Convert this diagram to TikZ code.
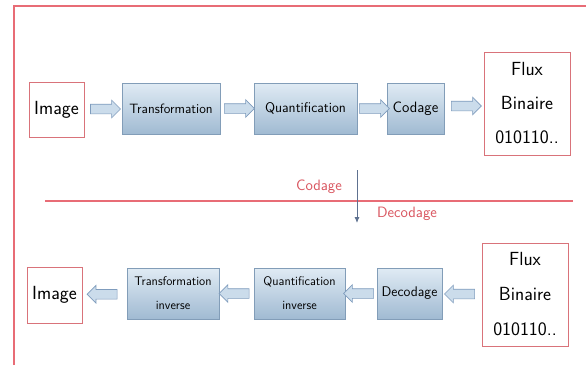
\documentclass[tikz,border=0pt]{standalone}
\usetikzlibrary{shapes.arrows,calc,arrows.meta}
\definecolor{borderred}{RGB}{232,108,118}
\definecolor{boxred}{RGB}{217,115,122}
\definecolor{bluebord}{RGB}{130,157,184}
\definecolor{bluetop}{RGB}{224,235,244}
\definecolor{bluebot}{RGB}{160,186,210}
\definecolor{arrowbord}{RGB}{127,156,189}
\definecolor{arrowfill}{RGB}{203,220,235}
\definecolor{labred}{RGB}{217,84,94}
\definecolor{vdark}{RGB}{94,113,144}
\tikzset{
  redbox/.style={draw=boxred, line width=0.9pt, fill=white, text=black, font=\sffamily, inner sep=0pt, align=center},
  bluebox/.style={draw=bluebord, line width=0.7pt, top color=bluetop, bottom color=bluebot, text=black, font=\sffamily, inner sep=0pt, align=center},
  blockarrow/.style={single arrow, draw=arrowbord, fill=arrowfill, line width=0.6pt, minimum height=30pt, minimum width=17pt, inner sep=4.5pt, single arrow head extend=4pt, single arrow head indent=0pt},
  leftarrow/.style={blockarrow, shape border rotate=180},
  redlabel/.style={text=labred, font=\sffamily\fontsize{15}{17}\selectfont, inner sep=0pt},
  redline/.style={draw=borderred, line width=1.1pt}
}
\begin{document}
\begin{tikzpicture}[x=1pt,y=-1pt]
\useasboundingbox (0,0) rectangle (586,365);
\fill[white] (0,0) rectangle (586,365);
% outer frame (left and top edges visible)
\coordinate (fbl) at (14,365);
\coordinate (ftl) at (14,6);
\coordinate (ftr) at (586,6);
\draw[draw=borderred, line width=2pt] (fbl) -- (ftl) -- (ftr);

% top row
\node[redbox, minimum width=55pt, minimum height=55pt, font=\sffamily\fontsize{19}{22}\selectfont] (img1) at (56.5,109.5) {Image};
\node[bluebox, minimum width=98pt, minimum height=51pt, font=\sffamily\fontsize{13.5}{16}\selectfont] (tr1) at (171,108.5) {Transformation};
\node[bluebox, minimum width=103pt, minimum height=51pt, font=\sffamily\fontsize{14}{16}\selectfont] (qu1) at (305.5,108.5) {Quantification};
\node[bluebox, minimum width=57pt, minimum height=51pt, font=\sffamily\fontsize{15}{17}\selectfont] (co1) at (415.5,108.5) {Codage};
\node[redbox, minimum width=86pt, minimum height=103pt, font=\sffamily\fontsize{19}{34}\selectfont] (fl1) at (527,103.5) {Flux\\Binaire\\010110..};

\node[blockarrow] (a1) at ($(img1.east)!0.5!(tr1.west)$) {};
\node[blockarrow] (a2) at ($(tr1.east)!0.5!(qu1.west)$) {};
\node[blockarrow] (a3) at ($(qu1.east)!0.5!(co1.west)$) {};
\node[blockarrow] (a4) at ($(co1.east)!0.5!(fl1.west)$) {};

% divider
\coordinate (dl) at (45,201);
\coordinate (dr) at (573,201);
\draw[redline] (dl) -- (dr);
\node[redlabel] (lcod) at (319,187) {Codage};
\node[redlabel] (ldec) at (407,214) {Decodage};
\coordinate (vt) at (357,170);
\coordinate (vb) at (357,223);
\draw[vdark, line width=0.9pt, -{Latex[length=6pt,width=5pt]}] (vt) -- (vb);

% bottom row
\node[redbox, minimum width=55pt, minimum height=56pt, font=\sffamily\fontsize{19}{22}\selectfont] (img2) at (54.5,295) {Image};
\node[bluebox, minimum width=92pt, minimum height=51pt, font=\sffamily\fontsize{12.5}{24}\selectfont] (tr2) at (173,293.5) {Transformation\\inverse};
\node[bluebox, minimum width=91pt, minimum height=51pt, font=\sffamily\fontsize{12.5}{24}\selectfont] (qu2) at (299.5,293.5) {Quantification\\inverse};
\node[bluebox, minimum width=65pt, minimum height=51pt, font=\sffamily\fontsize{14}{16}\selectfont] (de2) at (409.5,293.5) {Decodage};
\node[redbox, minimum width=86pt, minimum height=103pt, font=\sffamily\fontsize{19}{35}\selectfont] (fl2) at (525,294.5) {Flux\\Binaire\\010110..};

\node[leftarrow] (b1) at ($(img2.east)!0.5!(tr2.west)$) {};
\node[leftarrow] (b2) at ($(tr2.east)!0.5!(qu2.west)$) {};
\node[leftarrow] (b3) at ($(qu2.east)!0.5!(de2.west)$) {};
\node[leftarrow] (b4) at ($(de2.east)!0.5!(fl2.west)$) {};
\end{tikzpicture}
\end{document}
